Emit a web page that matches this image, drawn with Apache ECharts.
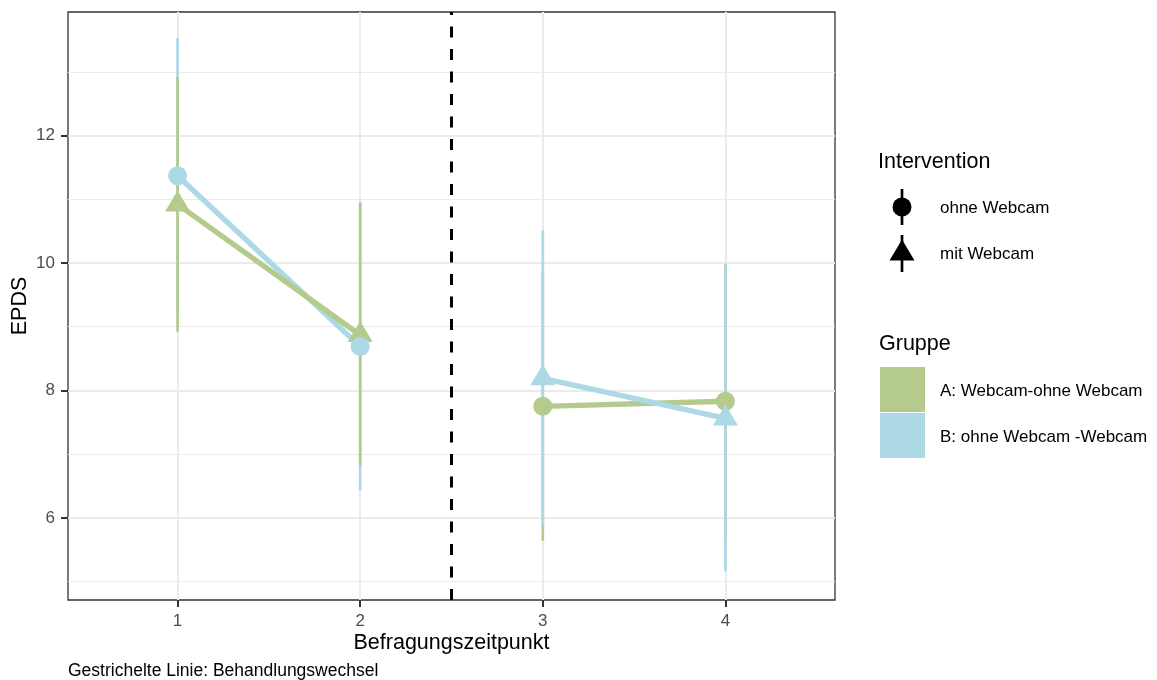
<!DOCTYPE html>
<html>
<head>
<meta charset="utf-8">
<script src="https://cdn.jsdelivr.net/npm/echarts@6/dist/echarts.min.js"></script>
<style>html,body{margin:0;padding:0;background:#fff}#c{width:1157px;height:680px}</style>
</head>
<body>
<div id="c"></div>
<script>
// ---- data ----
const times = [1, 2, 3, 4];
const xTickLabels = ['1', '2', '3', '4'];
const yTickValues = [6, 8, 10, 12];
const yMinorValues = [5, 7, 9, 11, 13];
const groupNames = ['A: Webcam-ohne Webcam', 'B: ohne Webcam -Webcam'];
const interventionNames = ['ohne Webcam', 'mit Webcam'];
const groupA_mean = [10.92, 8.87, 7.75, 7.83];
const groupA_lo   = [8.92, 6.82, 5.64, 5.67];
const groupA_hi   = [12.92, 10.94, 9.86, 9.99];
const groupA_webcam = [true, true, false, false];
const groupB_mean = [11.37, 8.69, 8.19, 7.56];
const groupB_lo   = [9.21, 6.43, 5.88, 5.16];
const groupB_hi   = [13.53, 10.96, 10.51, 9.97];
const groupB_webcam = [false, false, true, true];
const switchPoint = 2.5;

const colA = '#B5CA8D', colB = '#ADD8E6';
const FONT = "'Liberation Sans', Arial, sans-serif";
const TRI = [25, 21], CIR = 19;

function errSeries(mean, lo, hi, idx, color) {
  return {
    type: 'custom', silent: true, z: 3,
    data: idx.map(i => [times[i], lo[i], hi[i]]),
    renderItem: function (params, api) {
      const p1 = api.coord([api.value(0), api.value(1)]);
      const p2 = api.coord([api.value(0), api.value(2)]);
      return { type: 'line', shape: { x1: p1[0], y1: p1[1], x2: p2[0], y2: p2[1] },
               style: { stroke: color, lineWidth: 2.7 } };
    }
  };
}
function lineSeries(mean, idx, color) {
  return {
    type: 'line', silent: true, z: 4, showSymbol: false, symbol: 'none',
    data: idx.map(i => [times[i], mean[i]]),
    lineStyle: { color: color, width: 5.3 }
  };
}
function pointSeries(mean, webcam, color) {
  return {
    type: 'scatter', silent: true, z: 5,
    data: times.map((t, i) => ({
      value: [t, mean[i]],
      symbol: webcam[i] ? 'triangle' : 'circle',
      symbolSize: webcam[i] ? TRI : CIR,
      symbolOffset: webcam[i] ? [0, -3.5] : [0, 0]
    })),
    itemStyle: { color: color, opacity: 1 }
  };
}

const gridLines = [];
yTickValues.forEach(v => gridLines.push({ yAxis: v, lineStyle: { color: '#EBEBEB', width: 2, type: 'solid' } }));
yMinorValues.forEach(v => gridLines.push({ yAxis: v, lineStyle: { color: '#EBEBEB', width: 1, type: 'solid' } }));
times.forEach(v => gridLines.push({ xAxis: v, lineStyle: { color: '#EBEBEB', width: 2, type: 'solid' } }));

const option = {
  backgroundColor: '#ffffff',
  animation: false,
  textStyle: { fontFamily: FONT },
  grid: { left: 68, top: 12, width: 767, height: 588, show: true, borderColor: '#333333', borderWidth: 1.3,
          backgroundColor: 'transparent', containLabel: false, outerBoundsMode: 'none' },
  xAxis: {
    type: 'value', min: 0.4, max: 4.6,
    name: 'Befragungszeitpunkt', nameLocation: 'middle', nameGap: 32, nameMoveOverlap: false,
    nameTextStyle: { fontSize: 21.5, color: '#000', fontFamily: FONT },
    axisLine: { show: false },
    axisTick: { show: true, length: 7, lineStyle: { color: '#333333', width: 2 }, customValues: times },
    axisLabel: { fontSize: 17, color: '#4D4D4D', margin: 13, fontFamily: FONT, customValues: times,
      formatter: v => xTickLabels[times.indexOf(v)] || '' },
    splitLine: { show: false }
  },
  yAxis: {
    type: 'value', min: 4.71, max: 13.94,
    name: 'EPDS', nameLocation: 'middle', nameGap: 37, nameRotate: 90, nameMoveOverlap: false,
    nameTextStyle: { fontSize: 21.5, color: '#000', fontFamily: FONT },
    axisLine: { show: false },
    axisTick: { show: true, length: 7, lineStyle: { color: '#333333', width: 2 }, customValues: yTickValues },
    axisLabel: { fontSize: 17, color: '#4D4D4D', margin: 13, fontFamily: FONT, customValues: yTickValues },
    splitLine: { show: false }
  },
  series: [
    { type: 'line', z: 1, silent: true, data: [], markLine: { z: 1, silent: true, symbol: 'none', label: { show: false }, animation: false, data: gridLines } },
    { type: 'line', z: 2, silent: true, data: [], markLine: { z: 2, silent: true, symbol: 'none', label: { show: false }, animation: false,
        data: [{ xAxis: switchPoint, lineStyle: { color: '#000', width: 3, type: [11, 11.5] } }] } },
    errSeries(groupB_mean, groupB_lo, groupB_hi, [0, 1], colB),
    errSeries(groupA_mean, groupA_lo, groupA_hi, [0, 1], colA),
    errSeries(groupA_mean, groupA_lo, groupA_hi, [2, 3], colA),
    errSeries(groupB_mean, groupB_lo, groupB_hi, [2, 3], colB),
    lineSeries(groupB_mean, [0, 1], colB),
    lineSeries(groupA_mean, [0, 1], colA),
    lineSeries(groupA_mean, [2, 3], colA),
    lineSeries(groupB_mean, [2, 3], colB),
    pointSeries(groupA_mean, groupA_webcam, colA),
    pointSeries(groupB_mean, groupB_webcam, colB)
  ],
  graphic: [
    { type: 'text', left: 878, top: 151, style: { text: 'Intervention', font: '21.5px ' + FONT, fill: '#000' } },
    { type: 'line', shape: { x1: 902, y1: 189, x2: 902, y2: 225 }, style: { stroke: '#000', lineWidth: 2.7 } },
    { type: 'circle', shape: { cx: 902, cy: 207, r: 9.5 }, style: { fill: '#000' } },
    { type: 'line', shape: { x1: 902, y1: 235, x2: 902, y2: 272 }, style: { stroke: '#000', lineWidth: 2.7 } },
    { type: 'polygon', shape: { points: [[902, 239.5], [914.5, 260.5], [889.5, 260.5]] }, style: { fill: '#000' } },
    { type: 'text', left: 940, top: 200, style: { text: interventionNames[0], font: '17px ' + FONT, fill: '#000' } },
    { type: 'text', left: 940, top: 246, style: { text: interventionNames[1], font: '17px ' + FONT, fill: '#000' } },
    { type: 'text', left: 879, top: 333, style: { text: 'Gruppe', font: '21.5px ' + FONT, fill: '#000' } },
    { type: 'rect', shape: { x: 880, y: 367, width: 45, height: 45 }, style: { fill: colA } },
    { type: 'rect', shape: { x: 880, y: 413, width: 45, height: 45 }, style: { fill: colB } },
    { type: 'text', left: 940, top: 383, style: { text: groupNames[0], font: '17px ' + FONT, fill: '#000' } },
    { type: 'text', left: 940, top: 429, style: { text: groupNames[1], font: '17px ' + FONT, fill: '#000' } },
    { type: 'text', left: 68, top: 662, style: { text: 'Gestrichelte Linie: Behandlungswechsel', font: '17.5px ' + FONT, fill: '#000' } }
  ]
};
const chart = echarts.init(document.getElementById('c'), null, { renderer: 'canvas' });
chart.setOption(option);
</script>
</body>
</html>
